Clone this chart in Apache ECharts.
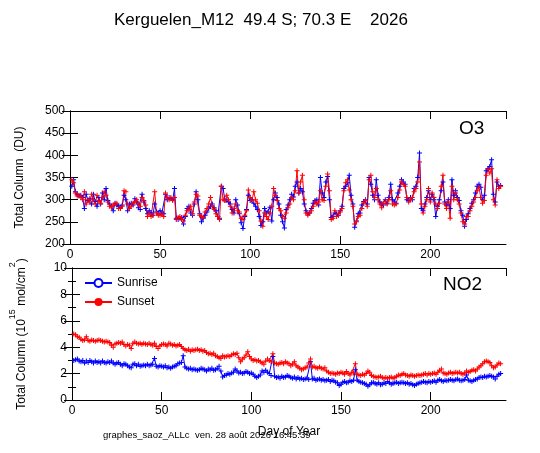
<!DOCTYPE html>
<html>
<head>
<meta charset="utf-8">
<title>Kerguelen_M12 SAOZ 2026</title>
<script src="https://cdn.jsdelivr.net/npm/echarts@6/dist/echarts.min.js"></script>
<style>
  html, body { margin: 0; padding: 0; background: #fff; }
  #chart { width: 540px; height: 453px; }
</style>
</head>
<body>
<div id="chart"></div>
<script>
// first day of the series (day of year)
var firstDay = 1;

// O3 total column (DU), one value per day
var o3Sunrise = [
  330, 345, 318, 312, 308, 310, 305, 280, 312, 298,
  302, 290, 312, 296, 285, 305, 290, 315, 300, 325,
  298, 290, 285, 275, 292, 288, 285, 282, 288, 310,
  300, 275, 290, 292, 288, 302, 295, 282, 278, 312,
  295, 280, 268, 275, 270, 265, 290, 272, 268, 275,
  270, 268, 312, 300, 305, 302, 300, 325, 258, 255,
  258, 260, 245, 262, 280, 285, 270, 265, 290, 318,
  300, 268, 250, 258, 265, 272, 280, 285, 290, 282,
  275, 262, 258, 330, 325, 298, 300, 295, 290, 278,
  270, 300, 288, 268, 248, 235, 262, 278, 310, 298,
  300, 292, 285, 278, 262, 242, 250, 280, 270, 272,
  283, 252, 300, 315, 305, 290, 265, 250, 236, 278,
  288, 300, 312, 306, 330, 340, 315, 325, 318, 290,
  275, 268, 270, 280, 292, 298, 300, 288, 350, 315,
  305, 340, 352, 300, 260, 262, 270, 268, 265, 275,
  285, 325, 330, 338, 355, 310, 290, 238, 252, 268,
  270, 288, 296, 300, 290, 350, 335, 310, 300, 345,
  310, 295, 290, 288, 300, 292, 305, 335, 300, 295,
  292, 315, 330, 345, 340, 335, 300, 298, 305, 300,
  325, 330, 350, 405, 280, 275, 290, 305, 320, 300,
  312, 300, 262, 285, 300, 320, 340, 295, 288, 300,
  280, 345, 310, 320, 305, 298, 275, 265, 240, 255,
  268, 280, 292, 300, 315, 330, 335, 328, 300, 310,
  365, 370, 375, 390, 312, 295, 340, 330, 332
];
var o3Sunset = [
  345, 338, 315, 308, 310, 305, 300, 318, 290, 300,
  295, 312, 300, 290, 310, 298, 292, 305, 318, 310,
  295, 285, 282, 288, 290, 292, 280, 280, 285, 320,
  318, 290, 280, 285, 292, 295, 300, 290, 285, 305,
  298, 288, 262, 268, 262, 265, 318, 270, 265, 265,
  268, 262, 315, 305, 300, 305, 298, 305, 255, 260,
  262, 255, 252, 265, 275, 278, 285, 268, 295, 312,
  308, 265, 262, 260, 272, 280, 290, 305, 285, 278,
  268, 262, 255, 330, 300, 298, 310, 300, 285, 270,
  280, 290, 275, 272, 258, 255, 265, 275, 322, 305,
  298, 318, 300, 292, 275, 252, 240, 270, 262, 255,
  270, 285, 325, 310, 298, 280, 275, 262, 258, 270,
  282, 290, 305, 300, 320, 365, 315, 340, 355, 300,
  270, 265, 270, 275, 285, 295, 290, 295, 320, 300,
  298, 330, 358, 320, 255, 258, 275, 262, 268, 272,
  280, 320, 338, 345, 322, 300, 285, 245, 250, 262,
  265, 280, 292, 298, 285, 345, 355, 318, 305, 325,
  300, 290, 282, 292, 296, 290, 300, 320, 290, 288,
  290, 305, 322, 340, 335, 330, 305, 295, 300, 305,
  318, 325, 340, 385, 290, 270, 285, 300, 325, 295,
  315, 305, 290, 280, 292, 330, 355, 290, 280, 295,
  258, 330, 300, 315, 300, 290, 270, 250, 245, 262,
  262, 275, 285, 295, 305, 320, 328, 305, 292, 298,
  355, 368, 360, 370, 300, 288, 345, 325, 330
];

// NO2 total column (1e15 mol/cm2), one value per day
var no2Sunrise = [
  3.0, 3.05, 3.1, 2.95, 2.9, 3.0, 2.8, 2.95, 2.85, 3.0,
  2.9, 2.8, 2.95, 2.85, 2.9, 2.8, 2.95, 2.85, 2.8, 2.9,
  2.85, 2.95, 2.8, 2.7, 2.8, 2.85, 2.7, 2.6, 2.75, 2.7,
  2.6, 2.5, 2.45, 2.7, 2.75, 2.6, 2.7, 2.55, 2.6, 2.65,
  2.6, 2.7, 2.6, 2.65, 2.7, 3.15, 2.55, 2.5, 2.6, 2.55,
  2.5, 2.6, 2.45, 2.5, 2.4, 2.5, 2.55, 2.6, 2.75, 2.8,
  2.85, 3.35, 2.5, 2.4, 2.35, 2.4, 2.3, 2.35, 2.3, 2.25,
  2.3, 2.4, 2.35, 2.3, 2.2, 2.35, 2.3, 2.4, 2.25, 2.3,
  2.4, 2.55, 2.2, 1.75, 1.85, 1.9, 2.0, 1.95, 2.05, 2.1,
  2.35, 2.2, 2.05, 2.1, 2.0, 2.05, 2.15, 2.1, 2.0, 2.05,
  1.95, 1.8, 1.7, 1.8, 1.9, 2.2, 2.1, 2.25, 2.1, 2.0,
  1.85, 3.3, 1.8, 1.7, 1.75, 1.65, 1.8, 1.7, 1.75, 1.85,
  1.8, 1.7, 1.65, 1.75, 1.6, 1.7, 1.6, 1.65, 1.55, 1.6,
  1.65, 1.55, 2.9, 1.6, 1.65, 1.5, 1.55, 1.6, 1.5, 1.55,
  1.45, 1.5, 1.55, 1.4, 1.5, 1.45, 1.35, 1.3, 1.1, 1.2,
  1.35, 1.4, 1.3, 1.35, 1.45, 1.4, 1.5, 2.3, 1.5, 1.4,
  1.35, 1.3, 1.25, 1.2, 1.05, 1.15, 1.3, 1.35, 1.25, 1.2,
  1.3, 1.15, 1.2, 1.3, 1.25, 1.4, 1.3, 1.2, 1.25, 1.3,
  1.35, 1.25, 1.3, 1.35, 1.3, 1.25, 1.3, 1.2, 1.25, 1.15,
  1.1, 1.2, 1.25, 1.3, 1.35, 1.4, 1.35, 1.3, 1.4, 1.35,
  1.4, 1.45, 1.35, 1.5, 1.55, 1.45, 1.4, 1.5, 1.45, 1.5,
  1.55, 1.5, 1.45, 1.55, 1.6, 1.5, 1.45, 1.5, 1.55, 1.9,
  1.5, 1.45, 1.4, 1.5, 1.55, 1.6, 1.7, 1.75, 1.7, 1.8,
  1.75, 1.8, 1.85, 1.8, 1.75, 1.6, 1.8, 1.95, 2.0
];
var no2Sunset = [
  5.0, 4.95, 4.8, 4.75, 4.6, 4.5, 4.55, 4.8, 4.5, 4.45,
  4.55, 4.5, 4.45, 4.5, 4.55, 4.5, 4.45, 4.4, 4.45, 4.4,
  4.35, 4.15, 4.0, 4.25, 4.3, 4.35, 4.3, 4.4, 4.2, 4.1,
  4.2, 4.15, 3.9, 4.3, 4.4, 4.3, 4.25, 4.3, 4.2, 4.3,
  4.25, 4.2, 4.3, 4.2, 4.15, 4.3, 4.05, 3.9, 4.1, 4.2,
  4.25, 4.2, 4.1, 4.3, 4.25, 4.15, 4.2, 4.1, 4.15, 4.2,
  4.05, 3.9, 3.8, 3.75, 3.85, 3.7, 3.8, 3.75, 3.8, 3.85,
  3.75, 3.8, 3.7, 3.75, 3.6, 3.5, 3.55, 3.45, 3.55, 3.35,
  3.3, 3.2, 3.15, 3.35, 3.25, 3.3, 3.35, 3.3, 3.4, 3.5,
  3.45, 3.55, 3.2, 2.9, 3.1, 3.2, 3.4, 3.65, 3.3, 3.1,
  3.0, 3.05, 2.95, 3.0, 2.9, 2.8, 2.7, 2.95, 3.1, 3.0,
  2.9, 3.5, 2.8, 2.75, 2.7, 2.8, 2.85, 2.75, 2.9, 2.8,
  2.75, 2.6, 2.7, 2.9, 2.6, 2.5, 2.4, 2.3, 2.35, 2.45,
  2.5, 2.8, 3.1, 2.5, 2.55, 2.45, 2.4, 2.5, 2.4, 2.35,
  2.45, 2.2, 2.1, 2.0, 2.05, 2.0, 1.95, 2.05, 2.0, 2.1,
  2.05, 1.95, 2.15, 2.0, 1.9, 2.1, 2.05, 2.75, 1.95, 1.9,
  1.85, 1.95, 1.9, 2.0, 2.2, 2.1, 1.85, 1.8, 1.75, 1.7,
  1.75, 1.8, 1.7, 1.65, 1.7, 1.65, 1.7, 1.75, 1.65, 1.7,
  1.8, 1.9, 1.85, 1.95, 2.0, 1.9, 1.85, 1.8, 1.9, 1.85,
  1.8, 1.85, 1.9, 1.85, 1.9, 1.95, 2.0, 1.9, 2.0, 1.95,
  2.0, 2.05, 1.95, 2.1, 2.25, 2.35, 2.05, 2.0, 1.95, 2.05,
  2.1, 2.0, 2.05, 2.1, 2.05, 2.1, 2.0, 1.95, 2.05, 2.2,
  2.1, 2.15, 2.25, 2.3, 2.2, 2.35, 2.5, 2.6, 2.75, 2.9,
  2.95, 2.9, 2.85, 2.6, 2.45, 2.5, 2.65, 2.8, 2.75
];

var xTicks = { min: 0, max: 242, interval: 50 };
var o3Ticks = { min: 200, max: 500, interval: 50 };
var no2Ticks = { min: 0, max: 10, interval: 2 };

var BLUE = '#0000ff';
var RED = '#ff0000';
var FONT = '"Liberation Sans", Arial, sans-serif';
var PLUS = 'path://M-0.6,-3H0.6V-0.6H3V0.6H0.6V3H-0.6V0.6H-3V-0.6H-0.6Z';

var toPairs = function(values){
	var out = [];
	for( var i = 0; i < values.length; i++ ){
		out.push( [firstDay + i, values[i]] );
	}
	return out;
};

var xAxisOf = function(grid, pos, labels, name){
	return {
		type: 'value', gridIndex: grid, position: pos,
		min: xTicks.min, max: xTicks.max, interval: xTicks.interval,
		name: name || '', nameLocation: 'middle', nameGap: 26,
		nameTextStyle: { color: '#000', fontFamily: FONT, fontSize: 12 },
		axisLine: { show: true, onZero: false, lineStyle: { color: '#000', width: 1 } },
		axisTick: { show: true, inside: true, length: 8, lineStyle: { color: '#000' } },
		axisLabel: { show: labels, color: '#000', fontFamily: FONT, fontSize: 12, margin: 5,
			showMinLabel: true, showMaxLabel: false },
		splitLine: { show: false }
	};
};

var yAxisOf = function(grid, pos, labels, ticks, minor, name){
	return {
		type: 'value', gridIndex: grid, position: pos,
		min: ticks.min, max: ticks.max, interval: ticks.interval,
		name: name || '', nameLocation: 'middle', nameGap: 44,
		nameTextStyle: {
			color: '#000', fontFamily: FONT, fontSize: 12,
			rich: {
				n: { fontFamily: FONT, fontSize: 12, color: '#000', lineHeight: 20, verticalAlign: 'bottom' },
				s: { fontFamily: FONT, fontSize: 9, color: '#000', lineHeight: 10, verticalAlign: 'top' }
			}
		},
		axisLine: { show: true, lineStyle: { color: '#000', width: 1 } },
		axisTick: { show: true, inside: true, length: 8, lineStyle: { color: '#000' } },
		minorTick: { show: minor, splitNumber: 2, length: 4, lineStyle: { color: '#000' } },
		axisLabel: { show: labels, color: '#000', fontFamily: FONT, fontSize: 12, margin: 5 },
		splitLine: { show: false }
	};
};

var lineSeries = function(name, color, values, xi, yi){
	return {
		name: name, type: 'line', xAxisIndex: xi, yAxisIndex: yi,
		data: toPairs( values ),
		symbol: PLUS, symbolSize: 5, showAllSymbol: true,
		lineStyle: { color: color, width: 1 },
		itemStyle: { color: color },
		animation: false, silent: true
	};
};

var chart = echarts.init( document.getElementById( 'chart' ), null, { renderer: 'canvas' } );

chart.setOption( {
	backgroundColor: '#fff',
	animation: false,
	title: {
		text: 'Kerguelen_M12  49.4 S; 70.3 E    2026',
		left: 109, top: 7,
		textStyle: { color: '#000', fontFamily: FONT, fontSize: 17, fontWeight: 'normal' }
	},
	grid: [
		{ left: 70, top: 111, width: 436, height: 133 },
		{ left: 70, top: 268, width: 436, height: 132 }
	],
	legend: {
		data: ['Sunrise', 'Sunset'],
		orient: 'vertical', left: 79, top: 272,
		itemWidth: 27, itemHeight: 10, itemGap: 7,
		textStyle: { color: '#000', fontFamily: FONT, fontSize: 12 },
		selectedMode: false
	},
	xAxis: [
		xAxisOf( 0, 'bottom', true ),
		xAxisOf( 0, 'top', false ),
		xAxisOf( 1, 'bottom', true, 'Day of Year' ),
		xAxisOf( 1, 'top', false )
	],
	yAxis: [
		yAxisOf( 0, 'left', true, o3Ticks, false, 'Total Column  (DU)' ),
		yAxisOf( 0, 'right', false, o3Ticks, false ),
		yAxisOf( 1, 'left', true, no2Ticks, true, '{n|Total Column (10}{s|15}{n| mol/cm}{s|2}{n|)}' ),
		yAxisOf( 1, 'right', false, no2Ticks, true )
	],
	graphic: [
		{ type: 'text', left: 459, top: 119,
			style: { text: 'O3', fill: '#000', font: '19px ' + FONT } },
		{ type: 'text', left: 443, top: 275,
			style: { text: 'NO2', fill: '#000', font: '19px ' + FONT } },
		{ type: 'text', left: 103, top: 430,
			style: { text: 'graphes_saoz_ALLc  ven. 28 août 2026 16:45:39', fill: '#000', font: '9.5px ' + FONT } }
	],
	series: [
		// legend entries (open / filled circle)
		{ name: 'Sunrise', type: 'line', xAxisIndex: 2, yAxisIndex: 2, data: [],
			symbol: 'emptyCircle', symbolSize: 9, lineStyle: { color: BLUE, width: 1 },
			itemStyle: { color: BLUE, borderColor: BLUE } },
		{ name: 'Sunset', type: 'line', xAxisIndex: 2, yAxisIndex: 2, data: [],
			symbol: 'circle', symbolSize: 9, lineStyle: { color: RED, width: 1 },
			itemStyle: { color: RED } },
		lineSeries( 'Sunrise', BLUE, o3Sunrise, 0, 0 ),
		lineSeries( 'Sunset', RED, o3Sunset, 0, 0 ),
		lineSeries( 'Sunrise', BLUE, no2Sunrise, 2, 2 ),
		lineSeries( 'Sunset', RED, no2Sunset, 2, 2 )
	]
} );
</script>
</body>
</html>
